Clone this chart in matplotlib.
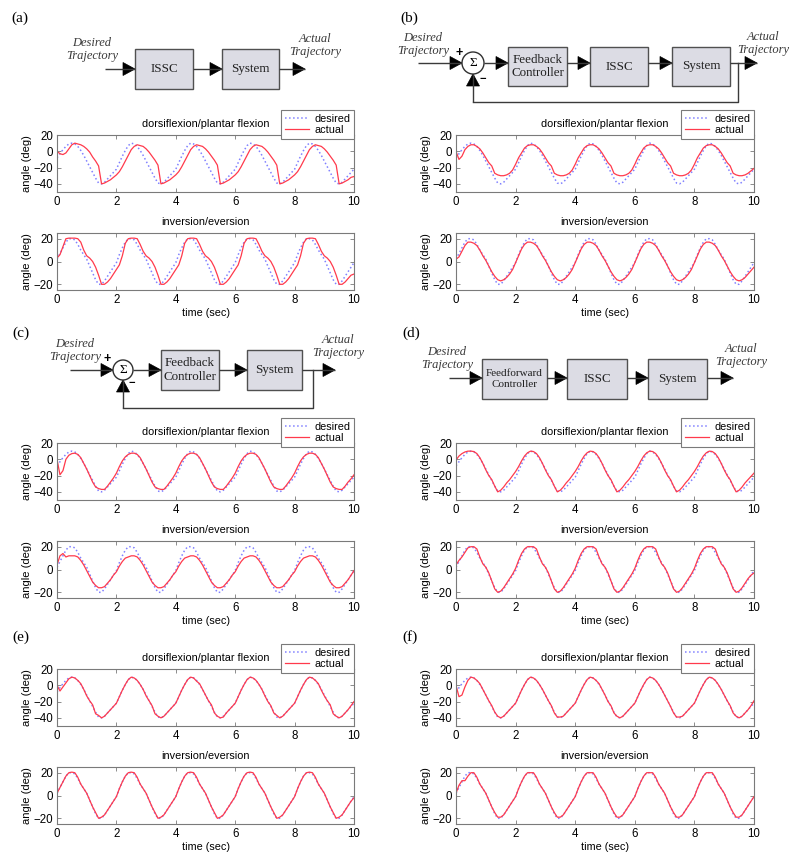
import numpy as np
import matplotlib
matplotlib.use('Agg')
import matplotlib.pyplot as plt
from matplotlib.patches import Rectangle, Circle, Polygon

W_PX, H_PX = 800, 859

# time base: one sample every 0.1 s over 10 s
TIME = np.round(np.arange(101) * 0.1, 1)

# desired trajectories (shared by all panels), deg
DESIRED_DF = [
    -8, -3, 2, 6, 9, 10, 9, 6, 1, -5, -12, -19, -26, -33, -39, -40, -38, -34, -30, -26,
    -22, -14, -6, 1, 7, 10, 9, 6, 1, -5, -12, -19, -26, -33, -39, -40, -38, -34, -30, -26,
    -22, -14, -6, 1, 7, 10, 9, 6, 1, -5, -12, -19, -26, -33, -39, -40, -38, -34, -30, -26,
    -22, -14, -6, 1, 7, 10, 9, 6, 1, -5, -12, -19, -26, -33, -39, -40, -38, -34, -30, -26,
    -22, -14, -6, 1, 7, 10, 9, 6, 1, -5, -12, -19, -26, -33, -39, -40, -38, -34, -30, -26,
    -22]
DESIRED_IE = [
    2, 7, 12, 17, 20, 20, 19, 15, 10, 6, 2, -4, -10, -16, -20, -20, -17, -13, -9, -5,
    -1, 6, 12, 17, 20, 20, 19, 15, 10, 6, 2, -4, -10, -16, -20, -20, -17, -13, -9, -5,
    -1, 6, 12, 17, 20, 20, 19, 15, 10, 6, 2, -4, -10, -16, -20, -20, -17, -13, -9, -5,
    -1, 6, 12, 17, 20, 20, 19, 15, 10, 6, 2, -4, -10, -16, -20, -20, -17, -13, -9, -5,
    -1, 6, 12, 17, 20, 20, 19, 15, 10, 6, 2, -4, -10, -16, -20, -20, -17, -13, -9, -5,
    -1]

# (a) ISSC only
A_DF = [
    0, -3, -4, -2, 3, 8, 10, 9, 8, 6, 3, -1, -7, -12, -18, -40, -39, -37, -35, -32,
    -29, -25, -19, -12, -5, 2, 6, 8, 7, 6, 3, -1, -6, -11, -17, -40, -39, -37, -35, -32,
    -29, -25, -19, -12, -5, 2, 6, 8, 7, 6, 3, -1, -6, -11, -17, -40, -39, -37, -35, -32,
    -29, -25, -19, -12, -5, 2, 6, 8, 7, 6, 3, -1, -6, -11, -17, -40, -39, -37, -35, -32,
    -29, -25, -19, -12, -5, 2, 6, 8, 7, 6, 3, -1, -6, -11, -17, -40, -39, -37, -35, -32,
    -31]
A_IE = [
    3, 6, 13, 20, 20.5, 20.5, 20.5, 20, 17, 10, 5, 3, 0, -5, -12, -20, -20, -18, -15, -11,
    -7, -3, 5, 16, 20, 20.5, 20.5, 20, 15, 9, 5, 3, 0, -5, -12, -20, -20, -18, -15, -11,
    -7, -3, 5, 16, 20, 20.5, 20.5, 20, 15, 9, 5, 3, 0, -5, -12, -20, -20, -18, -15, -11,
    -7, -3, 5, 16, 20, 20.5, 20.5, 20, 15, 9, 5, 3, 0, -5, -12, -20, -20, -18, -15, -11,
    -7, -3, 5, 16, 20, 20.5, 20.5, 20, 15, 9, 5, 3, 0, -5, -12, -20, -20, -18, -15, -12,
    -11]

# (b) feedback + ISSC
B_DF = [
    0, -10, -6, 2, 6, 8, 8, 6, 3, -2, -8, -14, -18, -27, -29, -30, -30, -29, -27, -23,
    -16, -8, -2, 4, 7, 8, 8, 6, 3, -2, -8, -14, -18, -27, -29, -30, -30, -29, -27, -23,
    -16, -8, -2, 4, 7, 8, 8, 6, 3, -2, -8, -14, -18, -27, -29, -30, -30, -29, -27, -23,
    -16, -8, -2, 4, 7, 8, 8, 6, 3, -2, -8, -14, -18, -27, -29, -30, -30, -29, -27, -23,
    -16, -8, -2, 4, 7, 8, 8, 6, 3, -2, -8, -14, -18, -27, -29, -30, -30, -29, -27, -24,
    -21]
B_IE = [
    2, 4, 9, 14, 17, 17, 16, 14, 10, 5, 1, -4, -9, -13, -16, -17, -16, -14, -11, -7,
    -1, 5, 11, 15, 17, 17, 16, 14, 10, 5, 1, -4, -9, -13, -16, -17, -16, -14, -11, -7,
    -1, 5, 11, 15, 17, 17, 16, 14, 10, 5, 1, -4, -9, -13, -16, -17, -16, -14, -11, -7,
    -1, 5, 11, 15, 17, 17, 16, 14, 10, 5, 1, -4, -9, -13, -16, -17, -16, -14, -11, -7,
    -1, 5, 11, 15, 17, 17, 16, 14, 10, 5, 1, -4, -9, -13, -16, -17, -16, -14, -11, -8,
    -5]

# (c) feedback only
C_DF = [
    0, -19, -14, 0, 5, 7, 7.5, 6, 2, -5, -12, -20, -28, -34, -36, -37, -37, -33, -28, -23,
    -17, -9, -2, 3, 6, 7.5, 7.5, 6, 2, -5, -12, -20, -28, -34, -36, -37, -37, -33, -28, -23,
    -17, -9, -2, 3, 6, 7.5, 7.5, 6, 2, -5, -12, -20, -28, -34, -36, -37, -37, -33, -28, -23,
    -17, -9, -2, 3, 6, 7.5, 7.5, 6, 2, -5, -12, -20, -28, -34, -36, -37, -37, -33, -28, -23,
    -17, -9, -2, 3, 6, 7.5, 7.5, 6, 2, -5, -12, -20, -28, -34, -36, -37, -37, -33, -28, -24,
    -19]
C_IE = [
    4, 12, 14, 11, 12, 12, 12, 11, 8, 4, -1, -6, -11, -14, -16, -16, -15, -12, -9, -5,
    -2, 3, 7, 10, 11, 12, 12, 11, 8, 4, -1, -6, -11, -14, -16, -16, -15, -12, -9, -5,
    -2, 3, 7, 10, 11, 12, 12, 11, 8, 4, -1, -6, -11, -14, -16, -16, -15, -12, -9, -5,
    -2, 3, 7, 10, 11, 12, 12, 11, 8, 4, -1, -6, -11, -14, -16, -16, -15, -12, -9, -5,
    -2, 3, 7, 10, 11, 12, 12, 11, 8, 4, -1, -6, -11, -14, -16, -16, -15, -12, -9, -5,
    -1]

# (d) feedforward + ISSC
D_DF = [
    -1, 4, 7, 9, 10, 10, 9.5, 7, 2, -5, -13, -20, -25, -33, -40, -38, -34, -29, -25, -20,
    -15, -9, -2, 4, 8, 10, 9.5, 7, 2, -5, -13, -20, -25, -33, -40, -38, -34, -29, -25, -20,
    -15, -9, -2, 4, 8, 10, 9.5, 7, 2, -5, -13, -20, -25, -33, -40, -38, -34, -29, -25, -20,
    -15, -9, -2, 4, 8, 10, 9.5, 7, 2, -5, -13, -20, -25, -33, -40, -38, -34, -29, -25, -20,
    -15, -9, -2, 4, 8, 10, 9.5, 7, 2, -5, -13, -20, -25, -33, -40, -38, -34, -29, -25, -21,
    -17]
D_IE = [
    4, 8, 11, 15, 19, 20, 20, 18, 11, 5, 2, -3, -10, -17, -20, -19, -16, -12, -8, -4,
    1, 8, 14, 18, 20, 20, 20, 18, 11, 5, 2, -3, -10, -17, -20, -19, -16, -12, -8, -4,
    1, 8, 14, 18, 20, 20, 20, 18, 11, 5, 2, -3, -10, -17, -20, -19, -16, -12, -8, -4,
    1, 8, 14, 18, 20, 20, 20, 18, 11, 5, 2, -3, -10, -17, -20, -19, -16, -12, -8, -4,
    1, 8, 14, 18, 20, 20, 20, 18, 11, 5, 2, -3, -10, -17, -20, -19, -16, -12, -8, -5,
    -3]

# (e)
E_DF = [
    0, -7, -2, 3, 8, 10, 9, 6, 2, -5, -13, -19, -24, -35, -37, -40, -38, -34, -30, -26,
    -22, -14, -6, 1, 7, 10, 9, 6, 1, -5, -13, -19, -25, -35, -38, -40, -38, -34, -30, -26,
    -22, -14, -6, 1, 7, 10, 9, 5, 2, -5, -12, -19, -24, -34, -38, -40, -39, -34, -30, -26,
    -22, -14, -6, 1, 7, 10, 9, 6, 1, -5, -13, -20, -25, -34, -37, -40, -38, -34, -30, -26,
    -22, -14, -6, 1, 7, 10, 9, 6, 2, -6, -13, -19, -24, -35, -38, -40, -38, -34, -30, -25,
    -20]
E_IE = [
    2, 7, 12, 17, 20, 20.5, 20, 16, 10, 6, 2, -4, -10, -15, -20, -19, -17, -13, -9, -5,
    -1, 6, 12, 17, 20, 20.5, 20, 16, 10, 6, 2, -4, -10, -15, -20, -19, -17, -13, -9, -5,
    -1, 6, 12, 17, 20, 20.5, 20, 16, 10, 6, 2, -4, -10, -15, -20, -19, -17, -13, -9, -5,
    -1, 6, 12, 17, 20, 20.5, 20, 16, 10, 6, 2, -4, -10, -15, -20, -19, -17, -13, -9, -5,
    -1, 6, 12, 17, 20, 20.5, 20, 16, 10, 6, 2, -4, -10, -15, -20, -19, -17, -13, -9, -5,
    -2]

# (f)
F_DF = [
    0, -14, -12, -2, 6, 10, 9, 6, 2, -5, -12, -19, -25, -33, -38, -40, -38, -34, -30, -26,
    -22, -14, -6, 1, 7, 10, 9, 6, 1, -5, -12, -19, -25, -34, -39, -39, -38, -34, -30, -26,
    -22, -14, -6, 1, 7, 10, 9, 6, 2, -5, -12, -20, -25, -34, -38, -40, -38, -34, -30, -26,
    -22, -14, -6, 1, 7, 10, 9, 6, 1, -5, -12, -19, -26, -34, -39, -39, -38, -34, -30, -26,
    -22, -14, -6, 1, 7, 10, 9, 6, 1, -5, -12, -19, -25, -34, -38, -40, -38, -34, -30, -25,
    -19]
F_IE = [
    2, 9, 13, 13, 17, 20, 20, 16, 10, 6, 2, -4, -10, -15, -19, -19, -17, -13, -9, -5,
    -1, 6, 12, 17, 20, 20, 20, 16, 10, 6, 2, -4, -10, -15, -19, -19, -17, -13, -9, -5,
    -1, 6, 12, 17, 20, 20, 20, 16, 10, 6, 2, -4, -10, -15, -19, -19, -17, -13, -9, -5,
    -1, 6, 12, 17, 20, 20, 20, 16, 10, 6, 2, -4, -10, -15, -19, -19, -17, -13, -9, -5,
    -1, 6, 12, 17, 20, 20, 20, 16, 10, 6, 2, -4, -10, -15, -19, -19, -17, -13, -9, -5,
    -1]

X_TICKS = [0, 2, 4, 6, 8, 10]
DF_TICKS = [-40, -20, 0, 20]
IE_TICKS = [-20, 0, 20]
LEGEND_LABELS = ['desired', 'actual']

BLUE = '#8080ff'
RED = '#ff3a4c'
FRAME = '#7a7a7a'
BOX_FILL = '#dcdce4'
INK = '#3a3a3a'
FS = 7.8

plt.rcParams['font.family'] = 'Liberation Sans'
plt.rcParams['axes.unicode_minus'] = True


def px_axes(fig, x0, x1, y0, y1):
    return fig.add_axes([x0 / W_PX, 1 - y1 / H_PX, (x1 - x0) / W_PX, (y1 - y0) / H_PX])


def style(ax, ylim, yticks):
    ax.set_xlim(0, 10)
    ax.set_ylim(*ylim)
    ax.set_xticks(X_TICKS)
    ax.set_yticks(yticks)
    ax.tick_params(direction='in', length=3, width=0.6, color=FRAME,
                   top=True, right=True, labelsize=8.3, pad=3)
    for s in ax.spines.values():
        s.set_color(FRAME)
        s.set_linewidth(0.8)
    ax.set_ylabel('angle (deg)', fontsize=8)
    ax.yaxis.set_label_coords(-0.085, 0.5)


def plot_pair(fig, x0, x1, rows, df_act, ie_act):
    (t0, t1), (b0, b1) = rows
    ax = px_axes(fig, x0, x1, t0, t1)
    ax.plot(TIME, DESIRED_DF, ls=':', color=BLUE, lw=1.1)
    ax.plot(TIME, df_act, color=RED, lw=0.9)
    style(ax, (-50, 20), DF_TICKS)
    ax.set_title('dorsiflexion/plantar flexion', fontsize=FS, pad=6)
    leg = ax.legend(LEGEND_LABELS, loc='upper right', bbox_to_anchor=(1.0, 1 + 25 / 57),
                    borderaxespad=0, fontsize=FS, fancybox=False, framealpha=1,
                    edgecolor=FRAME, handlelength=2.2, handletextpad=0.5,
                    borderpad=0.35, labelspacing=0.1)
    leg.get_frame().set_linewidth(0.8)

    ax2 = px_axes(fig, x0, x1, b0, b1)
    ax2.plot(TIME, DESIRED_IE, ls=':', color=BLUE, lw=1.1)
    ax2.plot(TIME, ie_act, color=RED, lw=0.9)
    style(ax2, (-25, 25), IE_TICKS)
    ax2.set_title('inversion/eversion', fontsize=FS, pad=6)
    ax2.set_xlabel('time (sec)', fontsize=FS, labelpad=1.5)


# ---- block diagram helpers (pixel coordinates on a full-figure overlay) ----
def arrow(ax, x0, y0, x1, y1, head=12, half=6.5):
    ax.plot([x0, x1], [y0, y1], color=INK, lw=1.0, solid_capstyle='butt')
    dx, dy = np.sign(x1 - x0), np.sign(y1 - y0)
    bx, by = x1 - dx * head, y1 - dy * head
    pts = [(x1, y1), (bx - dy * half, by + dx * half), (bx + dy * half, by - dx * half)]
    ax.add_patch(Polygon(pts, closed=True, fc='black', ec='black', lw=0.5))


def block(ax, x0, x1, y0, y1, label, fs=9.4):
    ax.add_patch(Rectangle((x0, y0), x1 - x0, y1 - y0, fc=BOX_FILL, ec='#505050', lw=1.0))
    ax.text((x0 + x1) / 2, (y0 + y1) / 2, label, ha='center', va='center',
            family='Liberation Serif', fontsize=fs, color='#202020', linespacing=1.15)


def io_text(ax, x, y, label):
    ax.text(x, y, label, ha='center', va='center', family='Liberation Serif',
            style='italic', fontsize=9, color=INK, linespacing=1.15)


def summer(ax, cx, cy, r):
    ax.add_patch(Circle((cx, cy), r, fc='white', ec='#303030', lw=1.0, zorder=3))
    ax.text(cx, cy, '\u03a3', ha='center', va='center', family='Liberation Serif',
            fontsize=9.5, zorder=4)


def feedback(ax, bx, by, cx, low, r):
    ax.plot([bx, bx, cx], [by, low, low], color=INK, lw=1.0)
    arrow(ax, cx, low, cx, by + r)


fig = plt.figure(figsize=(W_PX / 100, H_PX / 100), dpi=100)
dg = fig.add_axes([0, 0, 1, 1])
dg.set_xlim(0, W_PX)
dg.set_ylim(H_PX, 0)
dg.axis('off')

for lab, x, y in [('(a)', 20, 18), ('(b)', 409, 18), ('(c)', 21, 333),
                  ('(d)', 411, 333), ('(e)', 21, 637), ('(f)', 410, 637)]:
    dg.text(x, y, lab, ha='center', va='center', family='Liberation Serif', fontsize=11)

# (a) ISSC -> System
arrow(dg, 105, 69, 135, 69)
block(dg, 135, 193, 49, 89, 'ISSC')
arrow(dg, 193, 69, 222, 69)
block(dg, 222, 279, 49, 89, 'System')
arrow(dg, 279, 69, 305, 69)
io_text(dg, 92, 49.5, 'Desired\nTrajectory')
io_text(dg, 315, 45.5, 'Actual\nTrajectory')

# (b) feedback controller + ISSC
arrow(dg, 418, 63, 462, 63)
summer(dg, 473, 63, 11)
arrow(dg, 484, 63, 508, 63)
block(dg, 508, 567, 47, 86, 'Feedback\nController')
arrow(dg, 567, 63, 590, 63)
block(dg, 590, 648, 47, 86, 'ISSC')
arrow(dg, 648, 63, 672, 63)
block(dg, 672, 730, 47, 86, 'System')
arrow(dg, 730, 63, 757, 63)
feedback(dg, 738, 63, 473, 102, 11)
dg.text(459, 53, '+', ha='center', va='center', fontsize=9, weight='bold')
dg.text(483, 79, '\u2212', ha='center', va='center', fontsize=8, weight='bold')
io_text(dg, 423, 44.5, 'Desired\nTrajectory')
io_text(dg, 763, 43.5, 'Actual\nTrajectory')

# (c) feedback controller only
arrow(dg, 70, 370, 113, 370)
summer(dg, 123, 370, 10)
arrow(dg, 133, 370, 161, 370)
block(dg, 161, 219, 350, 390, 'Feedback\nController')
arrow(dg, 219, 370, 247, 370)
block(dg, 247, 302, 350, 390, 'System')
arrow(dg, 302, 370, 335, 370)
feedback(dg, 313, 370, 123, 408, 10)
dg.text(107, 359, '+', ha='center', va='center', fontsize=9, weight='bold')
dg.text(132, 383, '\u2212', ha='center', va='center', fontsize=8, weight='bold')
io_text(dg, 75, 350.5, 'Desired\nTrajectory')
io_text(dg, 338, 346.5, 'Actual\nTrajectory')

# (d) feedforward controller + ISSC
arrow(dg, 449, 378, 482, 378)
block(dg, 482, 547, 359, 399, 'Feedforward\nController', fs=8)
arrow(dg, 547, 378, 567, 378)
block(dg, 567, 627, 359, 399, 'ISSC')
arrow(dg, 627, 378, 648, 378)
block(dg, 648, 707, 359, 399, 'System')
arrow(dg, 707, 378, 733, 378)
io_text(dg, 447, 358.5, 'Desired\nTrajectory')
io_text(dg, 741, 355.5, 'Actual\nTrajectory')

# ---- time-series panels ----
LEFT, RIGHT = (57, 354), (456, 754)
ROW1 = ((135, 192), (233, 290))
ROW2 = ((443, 500), (541, 598))
ROW3 = ((669, 726), (767, 824))

plot_pair(fig, *LEFT, ROW1, A_DF, A_IE)
plot_pair(fig, *RIGHT, ROW1, B_DF, B_IE)
plot_pair(fig, *LEFT, ROW2, C_DF, C_IE)
plot_pair(fig, *RIGHT, ROW2, D_DF, D_IE)
plot_pair(fig, *LEFT, ROW3, E_DF, E_IE)
plot_pair(fig, *RIGHT, ROW3, F_DF, F_IE)

fig.savefig('out.png', dpi=100)
